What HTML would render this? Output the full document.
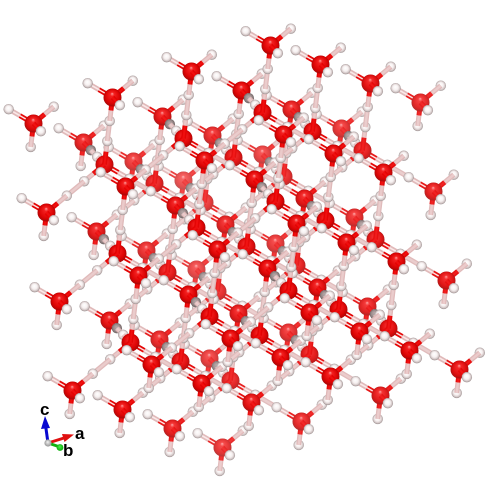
<!DOCTYPE html>
<html lang="en">
<head>
<meta charset="utf-8">
<title>Crystal structure view</title>
<style>
html,body{margin:0;padding:0;background:#fff;width:493px;height:493px;overflow:hidden}
svg{display:block}
text{font-family:"Liberation Sans",sans-serif;font-weight:bold;fill:#000;font-size:17px}
</style>
</head>
<body>
<svg id="scene" xmlns="http://www.w3.org/2000/svg" width="493" height="493" viewBox="0 0 493 493">
  <defs>
    <radialGradient id="oxy" cx="0.5" cy="0.5" r="0.55" fx="0.48" fy="0.28">
      <stop offset="0" stop-color="#ffa0a0"/>
      <stop offset="0.2" stop-color="#f42020"/>
      <stop offset="0.7" stop-color="#dc0404"/>
      <stop offset="1" stop-color="#980808"/>
    </radialGradient>
    <radialGradient id="hyd" cx="0.5" cy="0.5" r="0.52" fx="0.47" fy="0.38">
      <stop offset="0" stop-color="#ffffff"/>
      <stop offset="0.5" stop-color="#f6f0f0"/>
      <stop offset="0.8" stop-color="#cfc2c2"/>
      <stop offset="1" stop-color="#8c8080"/>
    </radialGradient>
    <radialGradient id="hydDark" cx="0.5" cy="0.5" r="0.52" fx="0.47" fy="0.38">
      <stop offset="0" stop-color="#b8a8a8"/>
      <stop offset="0.6" stop-color="#9c8c8c"/>
      <stop offset="1" stop-color="#6c6060"/>
    </radialGradient>
    <radialGradient id="axisOrigin" cx="0.5" cy="0.5" r="0.55" fx="0.45" fy="0.35">
      <stop offset="0" stop-color="#f4f4f4"/>
      <stop offset="1" stop-color="#8c8c8c"/>
    </radialGradient>
    <radialGradient id="axisGreen" cx="0.5" cy="0.5" r="0.55" fx="0.45" fy="0.35">
      <stop offset="0" stop-color="#50f050"/>
      <stop offset="1" stop-color="#08a808"/>
    </radialGradient>
  </defs>
  <g id="atoms"></g>
  <g id="triad">
    <line x1="48" y1="443" x2="64" y2="438" stroke="#e01010" stroke-width="3"/>
    <polygon points="74,434.5 62,434 64.5,442" fill="#e01010"/>
    <line x1="48" y1="443" x2="45.5" y2="425" stroke="#0808d0" stroke-width="3"/>
    <polygon points="45,416 41,429 50,428" fill="#0808d0"/>
    <line x1="48" y1="443" x2="60" y2="447" stroke="#10b010" stroke-width="3"/>
    <circle cx="60" cy="447.5" r="3.4" fill="url(#axisGreen)"/>
    <circle cx="48" cy="443" r="3.6" fill="url(#axisOrigin)"/>
    <text x="75" y="439">a</text>
    <text x="63" y="456">b</text>
    <text x="40" y="415">c</text>
  </g>
</svg>
<script>
// Structure data, in fractional cell coordinates
const cellCounts = [3, 3, 3];
const cornerBasis = [0, 0, 0];
const centreBasis = [0.5, 0.5, 0.5];
const hydrogenDirections = [
  [-0.5, -0.5, -0.5],
  [0.5, 0.5, -0.5],
  [0.5, -0.5, 0.5],
  [-0.5, 0.5, 0.5]
];
const bondFraction = 0.35;

// Projection: one fractional unit along each cell axis
const projOrigin = [33.5, 123.5];
const projA = [79, -26, 45];
const projB = [50, 19, -78];
const projC = [13, 89, 29];

function px(p) { return projOrigin[0] + p[0] * projA[0] + p[1] * projB[0] + p[2] * projC[0]; }
function py(p) { return projOrigin[1] + p[0] * projA[1] + p[1] * projB[1] + p[2] * projC[1]; }
function pz(p) { return p[0] * projA[2] + p[1] * projB[2] + p[2] * projC[2]; }
function fog(z) { return Math.max(0, Math.min(0.3, (-z + 20) / 254 * 0.3)); }
function mix(rgb, t) {
  return 'rgb(' + rgb.map(function (v) { return Math.round(v + (255 - v) * t); }).join(',') + ')';
}
function add(p, d, s) { return [p[0] + d[0] * s, p[1] + d[1] * s, p[2] + d[2] * s]; }

const NS = 'http://www.w3.org/2000/svg';
const items = [];

function addBond(p1, p2, rgb, coreRgb, coreWidth, fogScale) {
  const mid = add(p1, [p2[0] - p1[0], p2[1] - p1[1], p2[2] - p1[2]], 0.5);
  items.push({ z: pz(mid) - 1, kind: 'bond', p1: p1, p2: p2, rgb: rgb, coreRgb: coreRgb, coreWidth: coreWidth, fogScale: fogScale });
}
function addAtom(p, kind, dark) {
  items.push({ z: pz(p), kind: kind, p: p, dark: dark });
}
function addOH(o, dirIndex, sign, dark) {
  const d = hydrogenDirections[dirIndex];
  const h = add(o, d, sign * bondFraction);
  const m = add(o, d, sign * bondFraction * 0.55);
  const striped = dirIndex === 0;
  addBond(o, m, [228, 4, 4], striped ? [255, 225, 225] : [240, 14, 14], striped ? 1.4 : 2, 0.8);
  addBond(m, h, [224, 184, 184], striped ? [250, 232, 232] : [234, 202, 202], striped ? 1.6 : 2.4, 0.3);
  addAtom(h, 'h', dark);
  return h;
}
function insideCell(p) {
  return p[0] >= 0 && p[1] >= 0 && p[2] >= 0 &&
         p[0] <= cellCounts[0] && p[1] <= cellCounts[1] && p[2] <= cellCounts[2];
}

for (let i = 0; i <= cellCounts[0]; i++) {
  for (let j = 0; j <= cellCounts[1]; j++) {
    for (let k = 0; k <= cellCounts[2]; k++) {
      const o = [i + cornerBasis[0], j + cornerBasis[1], k + cornerBasis[2]];
      addAtom(o, 'o', false);
      hydrogenDirections.forEach(function (d, n) {
        const neighbour = add(o, d, 1);
        const linked = insideCell(neighbour);
        const h = addOH(o, n, 1, linked && n === 2);
        if (linked) {
          addBond(h, add(neighbour, d, -bondFraction), [224, 186, 186], [234, 204, 204], 2.4, 0.3);
        }
      });
      if (i < cellCounts[0] && j < cellCounts[1] && k < cellCounts[2]) {
        const c = [i + centreBasis[0], j + centreBasis[1], k + centreBasis[2]];
        addAtom(c, 'o', false);
        hydrogenDirections.forEach(function (d, n) {
          addOH(c, n, -1, false);
        });
      }
    }
  }
}

items.sort(function (a, b) { return a.z - b.z; });

const root = document.getElementById('atoms');
items.forEach(function (it) {
  const f = fog(it.z);
  if (it.kind === 'bond') {
    const bf = f * it.fogScale;
    const line = document.createElementNS(NS, 'line');
    
    
    line.setAttribute('x1', px(it.p1));
    line.setAttribute('y1', py(it.p1));
    line.setAttribute('x2', px(it.p2));
    line.setAttribute('y2', py(it.p2));
    line.setAttribute('stroke', mix(it.rgb, bf));
    line.setAttribute('stroke-width', '5');
    root.appendChild(line);
    const core = document.createElementNS(NS, 'line');
    
    
    core.setAttribute('x1', px(it.p1));
    core.setAttribute('y1', py(it.p1));
    core.setAttribute('x2', px(it.p2));
    core.setAttribute('y2', py(it.p2));
    core.setAttribute('stroke', mix(it.coreRgb, bf));
    core.setAttribute('stroke-width', it.coreWidth);
    root.appendChild(core);
  } else {
    const isO = it.kind === 'o';
    const r = isO ? 9 : 5.2;
    const s = document.createElementNS(NS, 'circle');
    
    
    s.setAttribute('cx', px(it.p));
    s.setAttribute('cy', py(it.p));
    s.setAttribute('r', r);
    s.setAttribute('fill', isO ? 'url(#oxy)' : (it.dark ? 'url(#hydDark)' : 'url(#hyd)'));
    root.appendChild(s);
    const veilOpacity = isO ? f : f * 0.3;
    if (veilOpacity > 0.01) {
      const veil = document.createElementNS(NS, 'circle');
      
      
      veil.setAttribute('cx', px(it.p));
      veil.setAttribute('cy', py(it.p));
      veil.setAttribute('r', r);
      veil.setAttribute('fill', '#fff');
      veil.setAttribute('fill-opacity', veilOpacity);
      root.appendChild(veil);
    }
  }
});
</script>
</body>
</html>
